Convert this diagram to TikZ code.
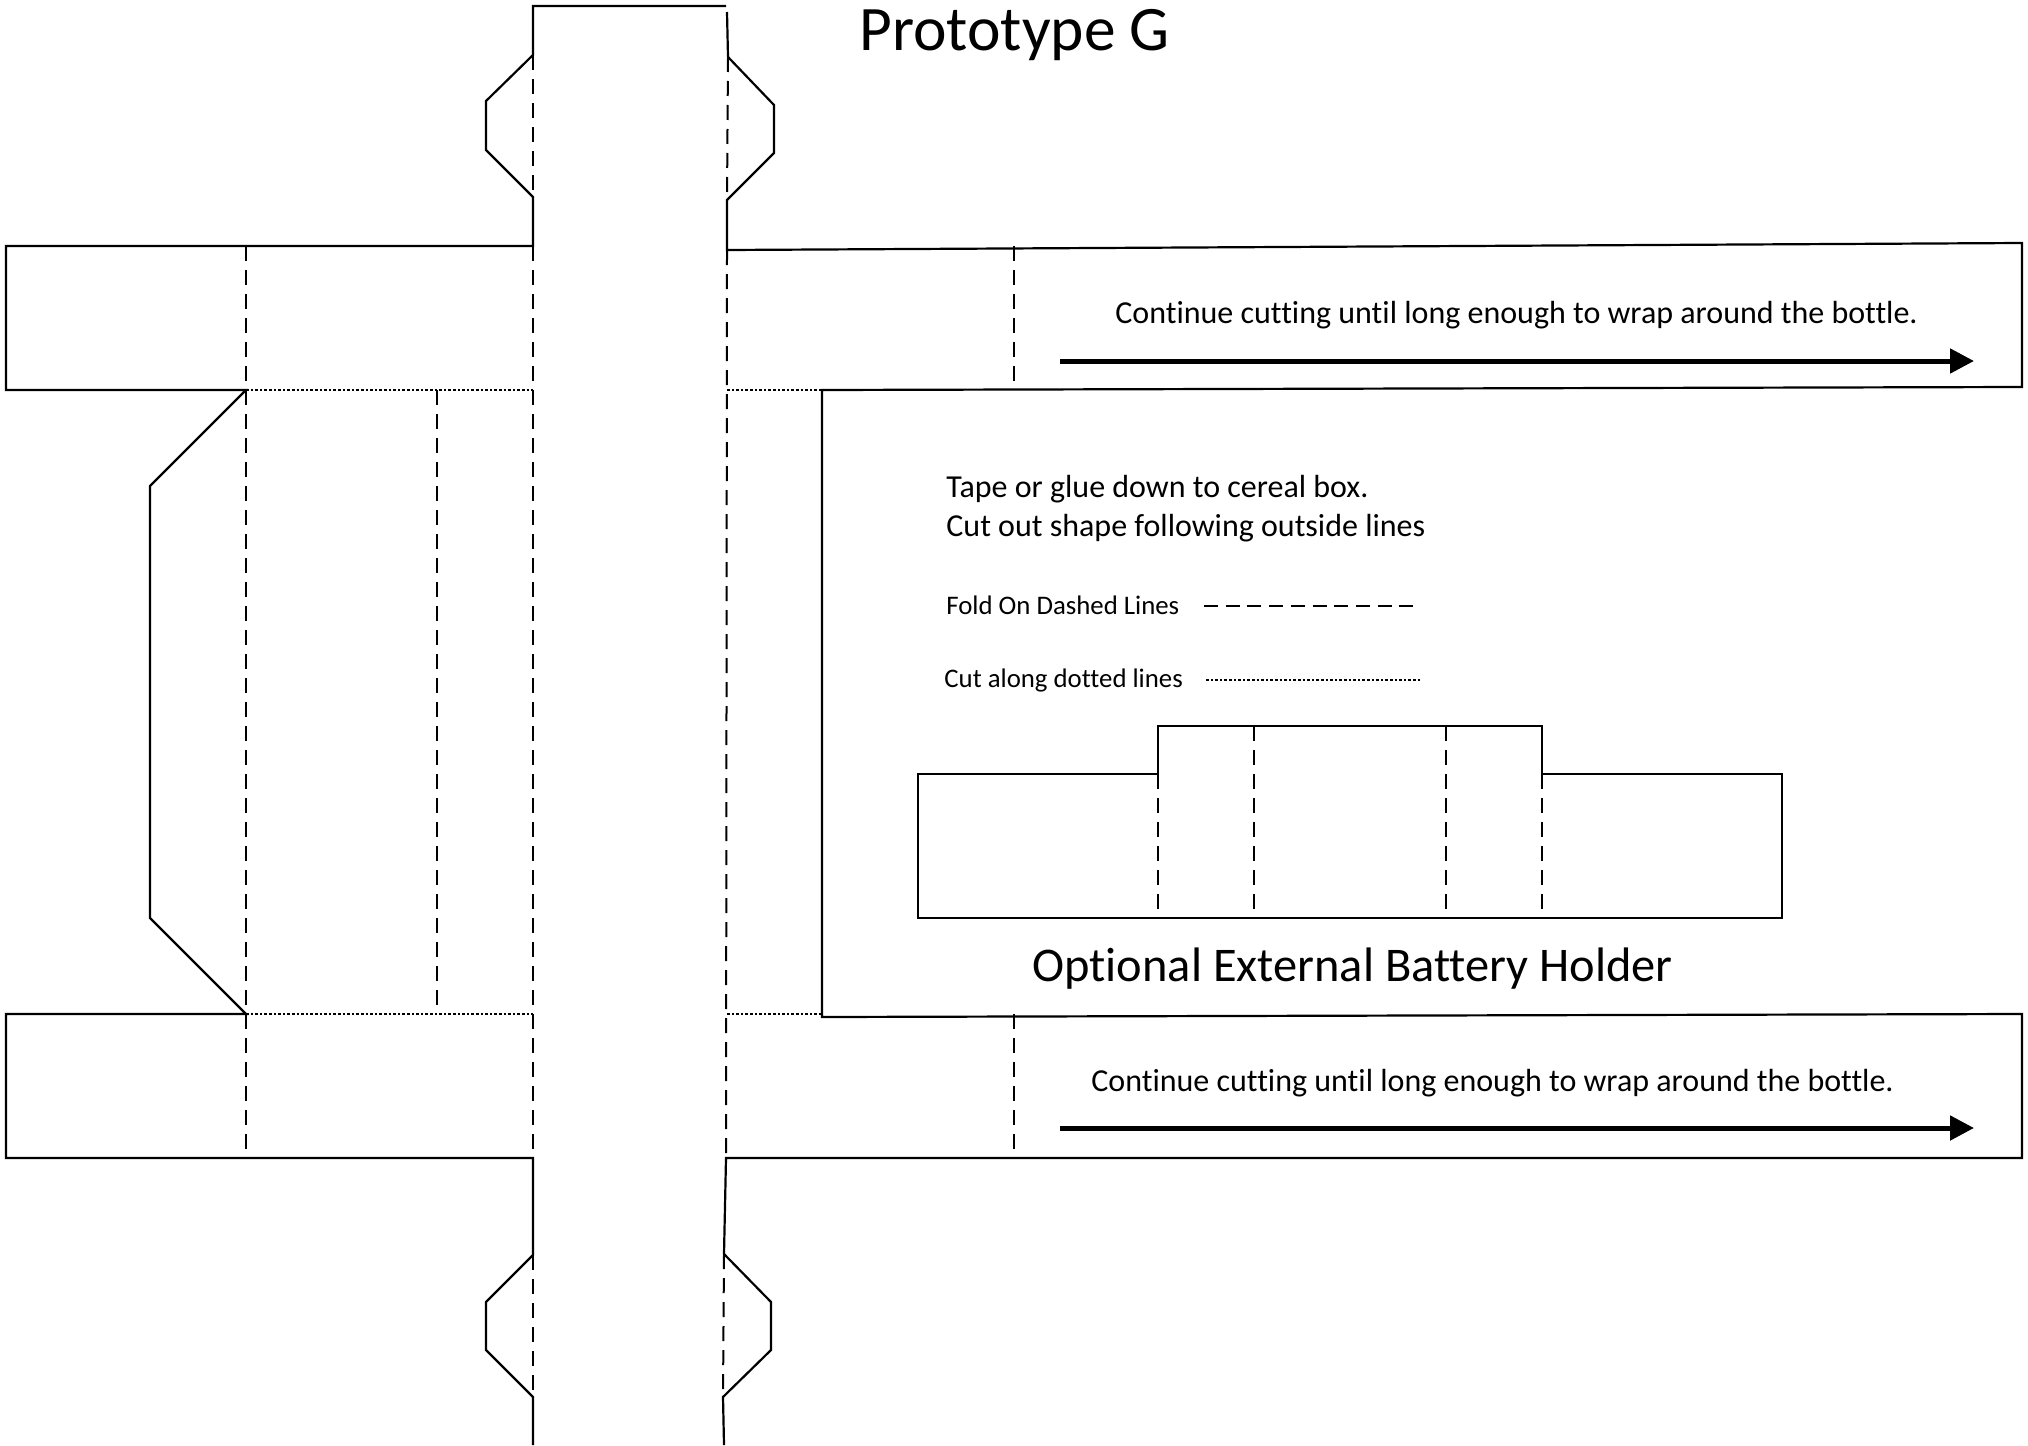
\documentclass[tikz,border=0pt]{standalone}
\usepackage{fontspec}
\setmainfont{Carlito}[Ligatures=CommonOff]
\usetikzlibrary{calc}
\usetikzlibrary{arrows.meta}

\tikzset{
  cutline/.style={black,line width=1.1pt,line join=miter},
  foldline/.style={black,line width=1pt,dash pattern=on 7.5pt off 4.5pt},
  slitline/.style={black,line width=0.85pt,dash pattern=on 1.3pt off 1pt},
  longarrow/.style={black,line width=2.5pt,-{Triangle[length=12pt,width=12pt]}},
  cardtext/.style={anchor=west,inner sep=0pt,font=\fontsize{16}{19}\selectfont}
}

\begin{document}
\begin{tikzpicture}[x=0.5pt,y=-0.5pt]
\useasboundingbox (0,0) rectangle (2028,1445);

% strip down the middle
\coordinate (TL) at (533,6);
\coordinate (TR) at (726,6);
\coordinate (TLa) at (533,55);
\coordinate (TLb) at (533,197);
\coordinate (TRa) at (728,57);
\coordinate (TRb) at (727,200);
\coordinate (BLa) at (533,1255);
\coordinate (BLb) at (533,1397);
\coordinate (BRa) at (724,1254);
\coordinate (BRb) at (723,1397);

% corners of the arms
\coordinate (AL) at (6,246);
\coordinate (AM) at (533,246);
\coordinate (AR) at (727,250);
\coordinate (BR) at (2022,243);
\coordinate (CR) at (2022,387);
\coordinate (CL) at (822,390);
\coordinate (DL) at (822,1017);
\coordinate (DR) at (2022,1014);
\coordinate (ER) at (2022,1158);
\coordinate (EM) at (726,1158);
\coordinate (FM) at (533,1158);
\coordinate (FL) at (6,1158);
\coordinate (GL) at (6,1014);
\coordinate (GM) at (246,1014);
\coordinate (HL) at (6,390);
\coordinate (HM) at (246,390);

\draw[cutline] (TRa)--(727,12);
\draw[cutline] (TR)--(TL)--(TLa)--(486,101)--(486,150)--(TLb)--(AM)--(AL)--(HL)--(HM)--(150,486)--(150,918)--(GM)--(GL)--(FL)--(FM)--(BLa)--(486,1302)--(486,1350)--(BLb)--(533,1445);
\draw[cutline] (TRa)--(774,105)--(774,153)--(TRb)--(AR)--(BR)--(CR)--(CL)--(DL)--(DR)--(ER)--(EM)--(BRa)--(771,1302)--(771,1350)--(BRb)--(724,1445);

% fold lines
\draw[foldline] (TLa)--(TLb);
\draw[foldline] (TRa)--(TRb);
\draw[foldline] (AM)--(FM);
\draw[foldline] (AR)--(EM);
\draw[foldline] (246,246)--(246,1150);
\draw[foldline] (437,390)--(437,1008);
\draw[foldline] (1014,246)--(1014,382);
\draw[foldline] (1014,1014)--(1014,1150);
\draw[foldline] (BLa)--(BLb);
\draw[foldline] (BRa)--(BRb);

% cut lines
\draw[slitline] (HM)--(533,390);
\draw[slitline] (727,390)--(CL);
\draw[slitline] (GM)--(533,1014);
\draw[slitline] (727,1014)--(822,1014);

% arrows and their text
\coordinate (A1) at (1060,361);
\coordinate (A2) at (1974,361);
\coordinate (A3) at (1060,1128);
\coordinate (A4) at (1974,1128);
\draw[longarrow] (A1)--(A2);
\draw[longarrow] (A3)--(A4);
\node[cardtext] (wrapup) at (1115,315) {Continue cutting until long enough to wrap around the bottle.};
\node[cardtext] (wrapdown) at (1091,1083) {Continue cutting until long enough to wrap around the bottle.};

\node[cardtext,font=\fontsize{31.7}{36}\selectfont] (title) at (859,35) {Prototype G};
\node[cardtext] (tape) at (946,489) {Tape or glue down to cereal box.};
\node[cardtext] (cutout) at (946,528) {Cut out shape following outside lines};
\node[cardtext,font=\fontsize{13.4}{16}\selectfont] (foldkey) at (946,605) {Fold On Dashed Lines};
\node[cardtext,font=\fontsize{13.4}{16}\selectfont] (cutkey) at (944,680) {Cut along dotted lines};
\draw[black,line width=0.7pt,dash pattern=on 7pt off 3.85pt] (1204,606)--(1414,606);
\draw[slitline] (1206,680)--(1420,680);

% battery holder
\coordinate (H1) at (918,774);
\coordinate (H2) at (1158,774);
\coordinate (H3) at (1158,726);
\coordinate (H4) at (1542,726);
\coordinate (H5) at (1542,774);
\coordinate (H6) at (1782,774);
\coordinate (H7) at (1782,918);
\coordinate (H8) at (918,918);
\draw[cutline] (H1)--(H2)--(H3)--(H4)--(H5)--(H6)--(H7)--(H8)--cycle;
\draw[foldline] (H2)--(1158,910);
\draw[foldline] (1254,726)--(1254,910);
\draw[foldline] (1446,726)--(1446,910);
\draw[foldline] (H5)--(1542,910);
\node[cardtext,font=\fontsize{24.2}{28}\selectfont] (optional) at (1032,969) {Optional External Battery Holder};

\end{tikzpicture}
\end{document}
